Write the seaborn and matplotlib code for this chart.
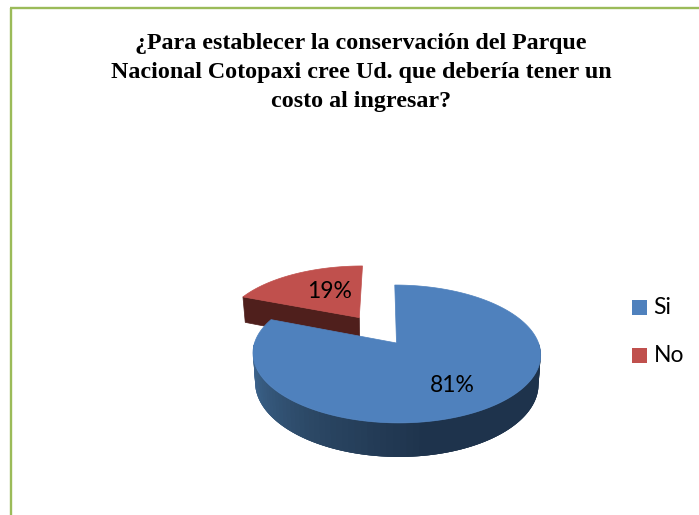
import numpy as np
import matplotlib
matplotlib.use("Agg")
import matplotlib.pyplot as plt
from matplotlib.patches import Polygon, Rectangle
import seaborn as sns

# Survey answers
categories = ["Si", "No"]
shares = [81, 19]
title_lines = [
    "¿Para establecer la conservación del Parque",
    "Nacional Cotopaxi cree Ud. que debería tener un",
    "costo al ingresar?",
]

sns.set_theme(style="white")
palette = {"Si": "#4F81BD", "No": "#C0504D"}
wall_no = "#4F1F1C"
wall_si = sns.blend_palette(["#4A76AB", "#3A6087", "#2B4764", "#1E334C", "#1E334C", "#1E334C"], 90)
frame_color = "#9BBB59"

W, H = 699, 515
fig = plt.figure(figsize=(W / 100, H / 100), dpi=100, facecolor="white")
ax = fig.add_axes([0, 0, 1, 1])
ax.set_xlim(0, W)
ax.set_ylim(H, 0)
ax.axis("off")

# Perspective view of the tilted disc
X0, Y0, AX, AY, K, SHEAR = 396.5, 343.0, 142.0, 67.2, 0.159, -2.0
DEPTH, BASE_SCALE = 28.6, 0.985


def project(u, v, drop=False):
    w = 1 + K * v
    x = AX * u / w + SHEAR * v / w
    y = Y0 - AY * v / w
    if drop:
        return X0 + x * BASE_SCALE, y + DEPTH / w
    return X0 + x, y


def rim(t0, t1, off=(0.0, 0.0), n=160):
    t = np.radians(np.linspace(t0, t1, n))
    return off[0] + np.sin(t), off[1] + np.cos(t)


cuts = np.cumsum([0] + shares) / sum(shares) * 360
si_start, si_end = cuts[0], cuts[1]
no_start, no_end = cuts[1], cuts[2]

# Exploded slice: pulled outward along its bisector
mid = np.radians((no_start + no_end) / 2)
explode = 0.486
off = (explode * np.sin(mid), explode * np.cos(mid))

# No: cut wall, then the top face
u, v = rim(no_start, no_end, off)
ax.add_patch(Polygon(np.c_[project(np.array([off[0], u[0]]), np.array([off[1], v[0]]))].tolist()
                     + np.c_[project(np.array([u[0], off[0]]), np.array([v[0], off[1]]), True)].tolist(),
                     closed=True, fc=wall_no, ec=wall_no, lw=0.5, zorder=2))
ax.add_patch(Polygon(np.c_[project(np.r_[off[0], u], np.r_[off[1], v])],
                     closed=True, fc=palette["No"], ec=palette["No"], lw=0.5, zorder=3))

# Si: curved outer wall as overlapping shaded strips, left to right around the front
angles = np.clip(np.linspace(si_end, 90, len(wall_si) + 1), 90, 270)
step = abs(angles[1] - angles[0]) if angles[1] != angles[0] else 3.0
for i, col in enumerate(wall_si):
    a, b = angles[i], max(angles[i + 1] - 1.5 * step, 90)
    if a <= 90:
        continue
    u, v = rim(a, b, n=6)
    top = np.c_[project(u, v)]
    bot = np.c_[project(u[::-1], v[::-1], True)]
    ax.add_patch(Polygon(np.r_[top, bot], closed=True, fc=col, ec="none", zorder=4 + i * 1e-3))

u, v = rim(si_start, si_end, n=300)
ax.add_patch(Polygon(np.c_[project(np.r_[0, u], np.r_[0, v])],
                     closed=True, fc=palette["Si"], ec=palette["Si"], lw=0.5, zorder=5))

# Percentage labels
label_font = ["Lato", "DejaVu Sans"]
ax.text(452, 386, f"{shares[0]}%", ha="center", va="center", fontsize=16.5, family=label_font, color="black", zorder=6)
ax.text(330, 291, f"{shares[1]}%", ha="center", va="center", fontsize=16.5, family=label_font, color="black", zorder=6)

# Title
for line, y in zip(title_lines, [44, 72.5, 101]):
    ax.text(361, y, line, ha="center", va="center", fontsize=17.25, fontweight="bold",
            family=["Liberation Serif", "DejaVu Serif"], color="black")

# Legend
for cat, y in zip(categories, [307.5, 355.5]):
    ax.add_patch(Rectangle((632, y - 7.5), 15, 15, fc=palette[cat], ec="none"))
    ax.text(653.5, y + 0.5, cat, ha="left", va="center", fontsize=16.5, family=label_font, color="black")

# Frame
ax.plot([10.8, 10.8], [H, 7.8], color=frame_color, lw=1.7, solid_capstyle="butt")
ax.plot([10.2, W], [7.8, 7.8], color=frame_color, lw=1.7, solid_capstyle="butt")

fig.savefig("out.png", dpi=100, facecolor="white")
